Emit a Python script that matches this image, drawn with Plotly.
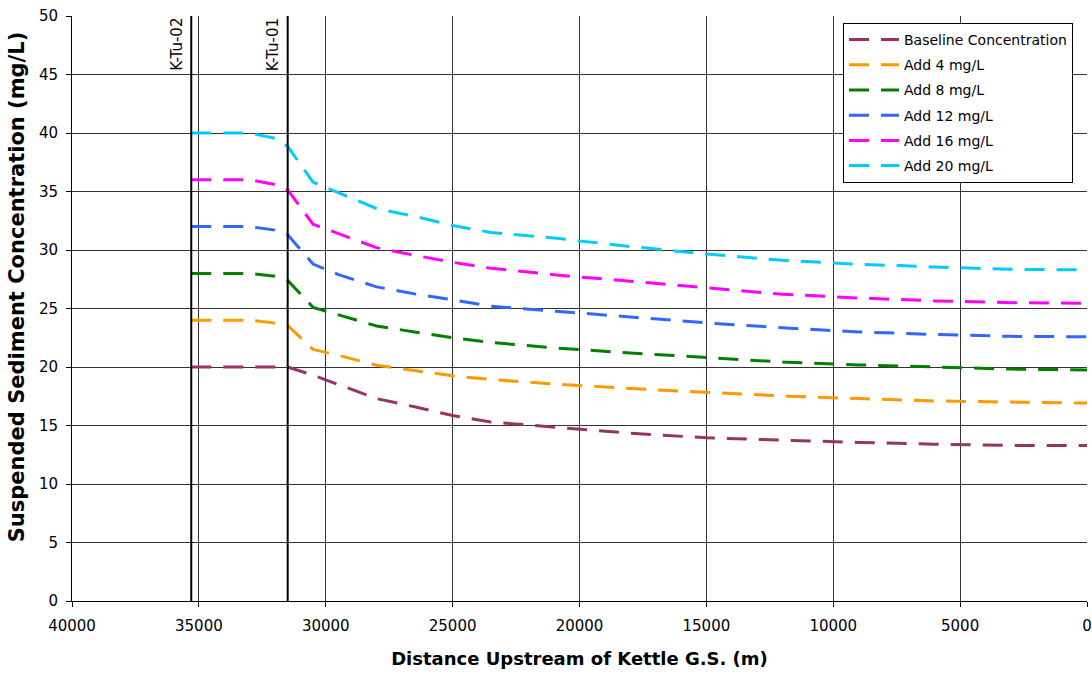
import plotly.graph_objects as go

# Distance upstream of Kettle G.S. (m)
distance = [35300, 33000, 32000, 31500, 30500, 29500, 28000, 26500, 25000,
            23500, 21000, 18000, 15000, 12000, 9000, 6000, 3000, 0]

baseline = [20.0, 20.0, 20.0, 20.0, 19.3, 18.5, 17.3, 16.6, 15.85,
            15.3, 14.87, 14.34, 13.95, 13.72, 13.55, 13.4, 13.3, 13.3]
add4 = [24.0, 24.0, 23.75, 23.55, 21.5, 21.0, 20.15, 19.68, 19.25,
        18.93, 18.55, 18.16, 17.81, 17.52, 17.3, 17.1, 17.0, 16.92]
add8 = [28.0, 28.0, 27.75, 27.4, 25.1, 24.45, 23.5, 23.0, 22.5,
        22.1, 21.63, 21.2, 20.8, 20.42, 20.18, 19.98, 19.82, 19.75]
add12 = [32.0, 32.0, 31.7, 31.3, 28.8, 27.9, 26.85, 26.25, 25.75,
         25.2, 24.78, 24.27, 23.77, 23.35, 23.0, 22.78, 22.62, 22.58]
add16 = [36.0, 36.0, 35.6, 35.15, 32.2, 31.4, 30.2, 29.55, 28.95,
         28.45, 27.88, 27.33, 26.75, 26.22, 25.9, 25.65, 25.5, 25.45]
add20 = [40.0, 40.0, 39.55, 38.85, 35.8, 34.9, 33.55, 32.88, 32.1,
         31.5, 31.02, 30.3, 29.65, 29.12, 28.78, 28.55, 28.35, 28.3]

series_names = ["Baseline Concentration", "Add 4 mg/L", "Add 8 mg/L",
                "Add 12 mg/L", "Add 16 mg/L", "Add 20 mg/L"]
series_values = [baseline, add4, add8, add12, add16, add20]
series_colors = ["#993366", "#FF9900", "#008000", "#3366FF", "#FF00FF", "#00CCFF"]

markers = ["K-Tu-02", "K-Tu-01"]
marker_pos = [35300, 31500]

x_ticks = [40000, 35000, 30000, 25000, 20000, 15000, 10000, 5000, 0]
y_ticks = [0, 5, 10, 15, 20, 25, 30, 35, 40, 45, 50]

FONT = "DejaVu Sans"

fig = go.Figure()
for i, (name, vals, col) in enumerate(zip(series_names, series_values, series_colors)):
    fig.add_trace(go.Scatter(
        x=distance, y=vals, mode="lines", name=name, legendgroup=f"g{i}",
        line=dict(color=col, width=3, dash="20px,12px"),
    ))

for lab, xp in zip(markers, marker_pos):
    fig.add_shape(type="line", xref="x", yref="paper", x0=xp, x1=xp, y0=0, y1=1,
                  line=dict(color="black", width=2))
    fig.add_annotation(x=xp, xref="x", y=1, yref="paper", text=lab, textangle=-90,
                       showarrow=False, xanchor="right", yanchor="top", xshift=-4,
                       yshift=0, font=dict(family=FONT, size=15, color="black"))

# y-axis title (placed as in the reference, slightly above the axis centre)
fig.add_annotation(x=-0.0542, xref="paper", y=0.538, yref="paper",
                   text="<b>Suspended Sediment Concentration (mg/L)</b>",
                   textangle=-90, showarrow=False, xanchor="center", yanchor="middle",
                   font=dict(family=FONT, size=21, color="black"))

fig.update_layout(
    width=1092, height=675,
    margin=dict(l=72, r=5, t=16, b=74, autoexpand=False),
    paper_bgcolor="white", plot_bgcolor="white",
    font=dict(family=FONT, size=15, color="black"),
    showlegend=True,
    legend=dict(x=0.7596, y=0.988, xanchor="left", yanchor="top",
                bgcolor="white", bordercolor="black", borderwidth=1,
                font=dict(family=FONT, size=14, color="black"),
                tracegroupgap=4, itemwidth=50),
)
fig.update_xaxes(
    range=[40000, 0], tickvals=x_ticks, ticktext=[str(v) for v in x_ticks],
    showgrid=True, gridcolor="#333333", gridwidth=1,
    showline=True, linecolor="black", linewidth=1,
    ticks="outside", ticklen=5, tickcolor="black", ticklabelstandoff=6,
    zeroline=False, automargin=False,
    title=dict(text="<b>Distance Upstream of Kettle G.S. (m)</b>",
               font=dict(family=FONT, size=18), standoff=18),
)
fig.update_yaxes(
    range=[0, 50], tickvals=y_ticks,
    showgrid=True, gridcolor="#333333", gridwidth=1,
    showline=True, linecolor="black", linewidth=1,
    ticks="outside", ticklen=5, tickcolor="black", ticklabelstandoff=5,
    zeroline=False, automargin=False,
)

fig.write_html("out.html", config={"displayModeBar": False})

# remove the default page margin so the figure sits at the window's top-left
with open("out.html", "r", encoding="utf-8") as f:
    html = f.read()
html = html.replace("<head>", "<head><style>html,body{margin:0;padding:0;overflow:hidden;}</style>", 1)
with open("out.html", "w", encoding="utf-8") as f:
    f.write(html)
